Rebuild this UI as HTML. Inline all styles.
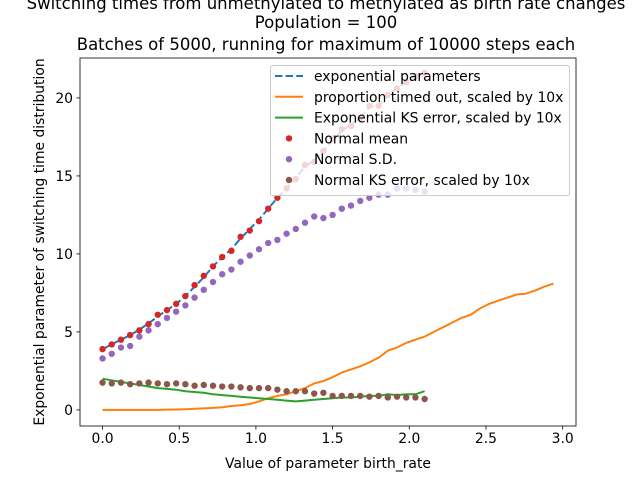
<!DOCTYPE html>
<html><head><meta charset="utf-8"><style>
html,body{margin:0;padding:0;background:#fff;}
svg{display:block;font-family:"DejaVu Sans","Liberation Sans",sans-serif;}
</style></head><body>
<svg id="chart" width="640" height="480" viewBox="0 0 640 480">
<rect width="640" height="480" fill="#fff"/>
<g id="titles" font-size="16.5" text-anchor="middle" fill="#000">
<text x="326" y="9">Switching times from unmethylated to methylated as birth rate changes</text>
<text x="326" y="28">Population = 100</text>
<text x="326" y="50">Batches of 5000, running for maximum of 10000 steps each</text>
</g>
<g id="plot"></g>
<g id="axes"></g>
<g id="legend"></g>
</svg>
<script>
const xs = [0,0.06,0.12,0.18,0.24,0.3,0.36,0.42,0.48,0.54,0.6,0.66,0.72,0.78,0.84,0.9,0.96,1.02,1.08,1.14,1.2,1.26,1.32,1.38,1.44,1.5,1.56,1.62,1.68,1.74,1.8,1.86,1.92,1.98,2.04,2.1];
const expParams = [3.9,4.2,4.5,4.8,5.15,5.55,6.0,6.4,6.8,7.3,7.9,8.5,9.2,9.8,10.3,11.0,11.6,12.2,12.9,13.6,14.2,14.9,15.6,16.0,16.6,17.3,17.9,18.3,18.7,19.4,19.5,20.2,20.6,21.0,21.4,21.6];
const normalMean = [3.9,4.2,4.5,4.8,5.1,5.5,6.1,6.4,6.8,7.3,8.0,8.6,9.2,9.8,10.2,11.1,11.5,12.1,12.9,13.6,14.2,14.8,15.7,15.9,16.6,17.4,18.0,18.2,18.7,19.5,19.5,20.2,20.6,21.0,21.4,21.6];
const normalSD = [3.3,3.6,4.0,4.1,4.7,5.1,5.5,5.9,6.3,6.7,7.2,7.7,8.2,8.7,9.0,9.5,9.9,10.3,10.7,10.9,11.3,11.6,12.0,12.4,12.3,12.5,12.9,13.1,13.4,13.6,13.8,13.8,14.2,14.2,14.1,14.0];
const normalKS = [1.75,1.7,1.75,1.65,1.7,1.75,1.7,1.65,1.7,1.65,1.55,1.6,1.55,1.5,1.5,1.45,1.4,1.4,1.4,1.3,1.2,1.2,1.2,1.05,1.1,0.9,0.9,0.9,0.9,0.85,0.9,0.8,0.85,0.8,0.8,0.7];
const expKS = [2.0,1.9,1.8,1.7,1.6,1.5,1.4,1.35,1.3,1.2,1.15,1.1,1.0,0.95,0.9,0.85,0.8,0.75,0.7,0.65,0.6,0.55,0.6,0.65,0.7,0.75,0.8,0.8,0.85,0.9,0.9,1.0,0.95,1.0,1.0,1.2];
const xsOrange = [0,0.06,0.12,0.18,0.24,0.3,0.36,0.42,0.48,0.54,0.6,0.66,0.72,0.78,0.84,0.9,0.96,1.02,1.08,1.14,1.2,1.26,1.32,1.38,1.44,1.5,1.56,1.62,1.68,1.74,1.8,1.86,1.92,1.98,2.04,2.1,2.16,2.22,2.28,2.34,2.4,2.46,2.52,2.58,2.64,2.7,2.76,2.82,2.88,2.94];
const timedOut = [0,0,0,0,0,0,0,0.02,0.03,0.05,0.08,0.1,0.13,0.17,0.25,0.3,0.38,0.55,0.75,0.9,1.0,1.2,1.4,1.7,1.85,2.1,2.4,2.6,2.8,3.05,3.35,3.8,4.0,4.3,4.5,4.7,5.0,5.3,5.6,5.9,6.1,6.5,6.8,7.0,7.2,7.4,7.45,7.65,7.9,8.1];
const xTicks = [0,0.5,1,1.5,2,2.5,3];
const xTickLabels = ["0.0","0.5","1.0","1.5","2.0","2.5","3.0"];
const yTicks = [0,5,10,15,20];
const yTickLabels = ["0","5","10","15","20"];

const L=80,R=576,T=58,B=426;
const xMin=-0.147,xMax=3.087,yMin=-1.03,yMax=22.56;
const X=v=>L+(v-xMin)/(xMax-xMin)*(R-L);
const Y=v=>B-(v-yMin)/(yMax-yMin)*(B-T);
const NS="http://www.w3.org/2000/svg";
const mk=(t,a,p)=>{const e=document.createElementNS(NS,t);for(const k in a)e.setAttribute(k,a[k]);p.appendChild(e);return e;};
const plot=document.getElementById('plot'), axes=document.getElementById('axes'), leg=document.getElementById('legend');
const pts=(xa,ya)=>xa.map((x,i)=>X(x).toFixed(1)+','+Y(ya[i]).toFixed(1)).join(' ');

let e;
e=mk('polyline',{points:pts(xs,expParams),fill:'none',stroke:'#1f77b4','stroke-width':2,'stroke-dasharray':'7.4,3.2'},plot);


e=mk('polyline',{points:pts(xsOrange,timedOut),fill:'none',stroke:'#ff7f0e','stroke-width':2},plot);


e=mk('polyline',{points:pts(xs,expKS),fill:'none',stroke:'#2ca02c','stroke-width':2},plot);


const dots=(arr,col,name)=>{xs.forEach((x,i)=>{const c=mk('circle',{cx:X(x),cy:Y(arr[i]),r:3.2,fill:col},plot);

});};
dots(normalMean,'#d62728','normal-mean-point');
dots(normalSD,'#9467bd','normal-sd-point');
dots(normalKS,'#8c564b','normal-ks-error-point');

e=mk('rect',{x:L,y:T,width:R-L,height:B-T,fill:'none',stroke:'#000','stroke-width':0.8},axes);


xTicks.forEach((v,i)=>{mk('line',{x1:X(v),x2:X(v),y1:B,y2:B+3.5,stroke:'#000','stroke-width':0.8},axes);
const t=mk('text',{x:X(v),y:B+17,'font-size':13.9,'text-anchor':'middle'},axes);t.textContent=xTickLabels[i];

});
yTicks.forEach((v,i)=>{mk('line',{x1:L-3.5,x2:L,y1:Y(v),y2:Y(v),stroke:'#000','stroke-width':0.8},axes);
const t=mk('text',{x:L-7,y:Y(v)+5,'font-size':13.9,'text-anchor':'end'},axes);t.textContent=yTickLabels[i];

});
e=mk('text',{x:(L+R)/2,y:468,'font-size':13.9,'text-anchor':'middle'},axes);e.textContent='Value of parameter birth_rate';


e=mk('text',{x:0,y:0,'font-size':13.9,'text-anchor':'middle',transform:`translate(44,${(T+B)/2}) rotate(-90)`},axes);e.textContent='Exponential parameter of switching time distribution';



e=mk('rect',{x:270.5,y:65.5,width:299,height:130,rx:2,fill:'#fff','fill-opacity':0.8,stroke:'#ccc','stroke-width':1},leg);


const entries=[['exponential parameters','dash','#1f77b4'],['proportion timed out, scaled by 10x','line','#ff7f0e'],['Exponential KS error, scaled by 10x','line','#2ca02c'],['Normal mean','dot','#d62728'],['Normal S.D.','dot','#9467bd'],['Normal KS error, scaled by 10x','dot','#8c564b']];
entries.forEach((en,i)=>{const y=76+i*20.8;
if(en[1]==='dot')mk('circle',{cx:289,cy:y,r:3.2,fill:en[2]},leg);
else mk('line',{x1:275,x2:303,y1:y,y2:y,stroke:en[2],'stroke-width':2,'stroke-dasharray':en[1]==='dash'?'7.4,3.2':'none'},leg);
const t=mk('text',{x:314,y:y+5,'font-size':13.9},leg);t.textContent=en[0];

});
</script>
</body></html>
